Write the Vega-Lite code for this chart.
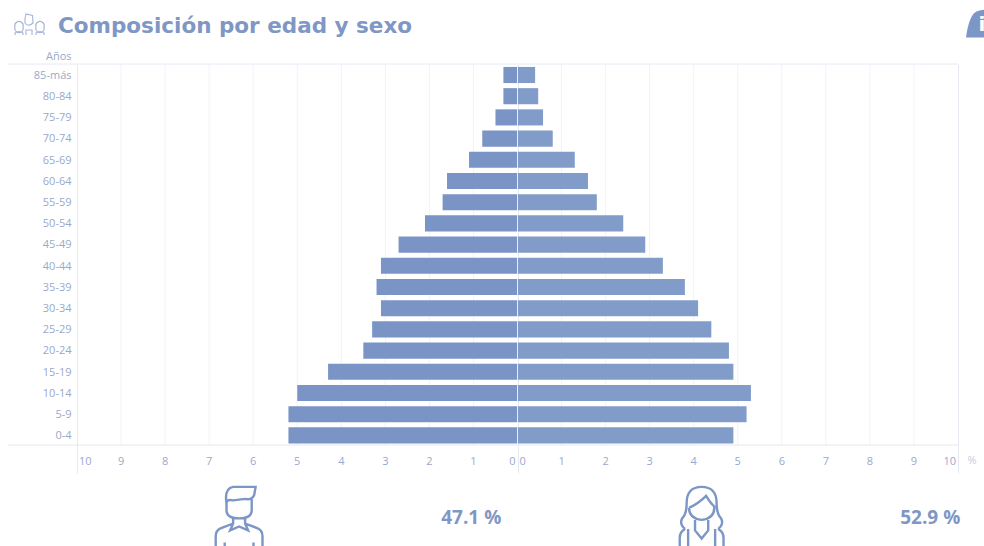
{
"$schema":"https://vega.github.io/schema/vega-lite/v6.json",
"width":881,"height":381.6,
"autosize":{"type":"none"},
"padding":{"left":77,"top":64.4,"right":26,"bottom":100},
"background":"white",
"title":{"text":"Composición por edad y sexo","anchor":"start","frame":"group","dx":-19,"offset":-28,"font":"DejaVu Sans","fontSize":21.5,"fontWeight":"bold","color":"#7f97c4"},
"config":{"view":{"stroke":null}},
"encoding":{
"y":{"field":"age","type":"nominal","sort":null,"scale":{"domain":["85-más","80-84","75-79","70-74","65-69","60-64","55-59","50-54","45-49","40-44","35-39","30-34","25-29","20-24","15-19","10-14","5-9","0-4"],"paddingInner":0.24,"paddingOuter":0.12}}
},
"layer":[
{"data":{"values":[{"t":-9},{"t":-8},{"t":-7},{"t":-6},{"t":-5},{"t":-4},{"t":-3},{"t":-2},{"t":-1},{"t":1},{"t":2},{"t":3},{"t":4},{"t":5},{"t":6},{"t":7},{"t":8},{"t":9}]},
"mark":{"type":"rule","color":"#f1f3f8","strokeWidth":1},
"encoding":{"y":null,"x":{"field":"t","type":"quantitative","scale":{"domain":[-10,10],"nice":false},
"axis":{"values":[-10,0,10],"labels":false,"domain":false,"ticks":true,"tickSize":27,"tickColor":"#e6e9f2","title":null,"grid":true,"gridColor":"#e6e9f2"}}}},
{"data":{"values":[{"age":"85-más"}]},
"mark":{"type":"rule","color":"#e6e9f2","strokeWidth":1,"xOffset":-69},
"encoding":{"y":{"field":"age","type":"nominal","sort":null,"bandPosition":-0.18,"axis":{"domain":false,"ticks":false,"grid":false,"labelFont":"Open Sans","labelFontSize":11,"labelColor":"#9aa9ca","labelPadding":6,"labelOffset":0.7,"title":"Años","titleFont":"Open Sans","titleFontSize":11,"titleFontWeight":"normal","titleColor":"#9aa9ca","titleAngle":0,"titleAlign":"right","titleBaseline":"middle","titleX":-6,"titleY":-8}},"x":{"datum":-10},"x2":{"datum":10}}},
{"data":{"values":[{"age":"0-4"}]},
"mark":{"type":"rule","color":"#e6e9f2","strokeWidth":1,"xOffset":-69},
"encoding":{"y":{"field":"age","type":"nominal","sort":null,"bandPosition":1.1},"x":{"datum":-10},"x2":{"datum":10}}},
{"data":{"values":[
{"age":"85-más","sex":"H","value":-0.32},{"age":"80-84","sex":"H","value":-0.32},{"age":"75-79","sex":"H","value":-0.5},{"age":"70-74","sex":"H","value":-0.8},{"age":"65-69","sex":"H","value":-1.1},{"age":"60-64","sex":"H","value":-1.6},{"age":"55-59","sex":"H","value":-1.7},{"age":"50-54","sex":"H","value":-2.1},{"age":"45-49","sex":"H","value":-2.7},{"age":"40-44","sex":"H","value":-3.1},{"age":"35-39","sex":"H","value":-3.2},{"age":"30-34","sex":"H","value":-3.1},{"age":"25-29","sex":"H","value":-3.3},{"age":"20-24","sex":"H","value":-3.5},{"age":"15-19","sex":"H","value":-4.3},{"age":"10-14","sex":"H","value":-5.0},{"age":"5-9","sex":"H","value":-5.2},{"age":"0-4","sex":"H","value":-5.2},
{"age":"85-más","sex":"M","value":0.4},{"age":"80-84","sex":"M","value":0.47},{"age":"75-79","sex":"M","value":0.58},{"age":"70-74","sex":"M","value":0.8},{"age":"65-69","sex":"M","value":1.3},{"age":"60-64","sex":"M","value":1.6},{"age":"55-59","sex":"M","value":1.8},{"age":"50-54","sex":"M","value":2.4},{"age":"45-49","sex":"M","value":2.9},{"age":"40-44","sex":"M","value":3.3},{"age":"35-39","sex":"M","value":3.8},{"age":"30-34","sex":"M","value":4.1},{"age":"25-29","sex":"M","value":4.4},{"age":"20-24","sex":"M","value":4.8},{"age":"15-19","sex":"M","value":4.9},{"age":"10-14","sex":"M","value":5.3},{"age":"5-9","sex":"M","value":5.2},{"age":"0-4","sex":"M","value":4.9}
]},
"mark":{"type":"bar"},
"encoding":{"x":{"field":"value","type":"quantitative"},
"color":{"field":"sex","type":"nominal","legend":null,"scale":{"domain":["H","M"],"range":["#7a94c5","#829cc9"]}}}},
{"data":{"values":[{"age":"85-más"}]},
"mark":{"type":"rule","color":"#ffffff","opacity":0.75,"strokeWidth":1},
"encoding":{"y":null,"x":{"datum":0}}},
{"data":{"values":[{"t":-9,"l":"9"},{"t":-8,"l":"8"},{"t":-7,"l":"7"},{"t":-6,"l":"6"},{"t":-5,"l":"5"},{"t":-4,"l":"4"},{"t":-3,"l":"3"},{"t":-2,"l":"2"},{"t":-1,"l":"1"},{"t":1,"l":"1"},{"t":2,"l":"2"},{"t":3,"l":"3"},{"t":4,"l":"4"},{"t":5,"l":"5"},{"t":6,"l":"6"},{"t":7,"l":"7"},{"t":8,"l":"8"},{"t":9,"l":"9"}]},
"mark":{"type":"text","font":"Open Sans","fontSize":11,"color":"#98a9ce","dy":26.5},
"encoding":{"y":{"datum":"0-4"},"x":{"field":"t","type":"quantitative"},"text":{"field":"l"}}},
{"data":{"values":[{"t":-10,"l":"10"},{"t":0,"l":"0"}]},
"mark":{"type":"text","font":"Open Sans","fontSize":11,"color":"#98a9ce","dy":26.5,"align":"left","dx":2},
"encoding":{"y":{"datum":"0-4"},"x":{"field":"t","type":"quantitative"},"text":{"field":"l"}}},
{"data":{"values":[{"t":10,"l":"10"},{"t":0,"l":"0"}]},
"mark":{"type":"text","font":"Open Sans","fontSize":11,"color":"#98a9ce","dy":26.5,"align":"right","dx":-2},
"encoding":{"y":{"datum":"0-4"},"x":{"field":"t","type":"quantitative"},"text":{"field":"l"}}},
{"data":{"values":[{"t":10,"l":"%"}]},
"mark":{"type":"text","font":"Open Sans","fontSize":11,"color":"#c3cde3","dy":26,"dx":14},
"encoding":{"y":{"datum":"0-4"},"x":{"field":"t","type":"quantitative"},"text":{"field":"l"}}},
{"data":{"values":[{"t":-1.05,"l":"47.1 %"},{"t":9.37,"l":"52.9 %"}]},
"mark":{"type":"text","font":"Open Sans","fontSize":19,"fontWeight":"bold","color":"#7f97c4","dy":82.5},
"encoding":{"y":{"datum":"0-4"},"x":{"field":"t","type":"quantitative"},"text":{"field":"l"}}},
{"data":{"values":[{"t":-6.32}]},
"mark":{"type":"point","filled":false,"stroke":"#7c96c6","strokeWidth":2.4,"opacity":1,"size":3600,"yOffset":81.5,
"shape":"M-0.42,-0.45 Q-0.5,-0.95 -0.2,-1 L0.55,-1 L0.5,-0.72 Q0.4,-0.55 0.2,-0.6 L-0.2,-0.55 Q-0.42,-0.6 -0.42,-0.45 L-0.42,-0.2 Q-0.4,0.05 0,0.05 Q0.4,0.05 0.42,-0.2 L0.42,-0.6 M-0.2,0.05 L-0.2,0.22 L-0.62,0.38 Q-0.78,0.45 -0.78,0.65 L-0.78,1.2 M0.2,0.05 L0.2,0.22 L0.62,0.38 Q0.78,0.45 0.78,0.65 L0.78,1.2 M-0.2,0.22 L-0.3,0.45 L0,0.32 L0.3,0.45 L0.2,0.22 M-0.48,0.85 L-0.48,1.2 M0.48,0.85 L0.48,1.2"},
"encoding":{"y":{"datum":"0-4"},"x":{"field":"t","type":"quantitative"}}},
{"data":{"values":[{"t":4.18}]},
"mark":{"type":"point","filled":false,"stroke":"#7c96c6","strokeWidth":2.4,"opacity":1,"size":3600,"yOffset":81.5,
"shape":"M0,-1 Q-0.5,-1 -0.5,-0.45 Q-0.5,-0.1 -0.65,0.05 Q-0.75,0.25 -0.55,0.4 M0,-1 Q0.5,-1 0.5,-0.45 Q0.5,-0.1 0.65,0.05 Q0.75,0.25 0.55,0.4 M-0.42,-0.3 Q-0.1,-0.45 0.15,-0.7 Q0.3,-0.45 0.42,-0.35 Q0.45,0.05 0,0.1 Q-0.42,0.05 -0.42,-0.3 M-0.55,0.4 Q-0.73,0.5 -0.73,0.7 L-0.73,1.2 M0.55,0.4 Q0.73,0.5 0.73,0.7 L0.73,1.2 M-0.22,0.1 L-0.22,0.45 L0,0.72 L0.22,0.45 L0.22,0.1 M-0.45,0.4 L-0.45,1.2 M0.45,0.4 L0.45,1.2"},
"encoding":{"y":{"datum":"0-4"},"x":{"field":"t","type":"quantitative"}}},
{"data":{"values":[{"t":-10}]},
"mark":{"type":"point","filled":false,"stroke":"#a3b4d6","strokeWidth":1.1,"opacity":1,"size":400,"xOffset":-48,"yOffset":-51,
"shape":"M-0.4,-0.55 L-0.4,-0.1 Q-0.1,0.35 0.4,-0.1 L0.35,-0.85 L-0.3,-1 Z M-1.4,0.3 A0.42,0.42 0 1 1 -0.6,0.3 A0.42,0.42 0 1 1 -1.4,0.3 M0.7,0.3 A0.42,0.42 0 1 1 1.5,0.3 A0.42,0.42 0 1 1 0.7,0.3 M-1.4,1.1 L-1.4,0.9 Q-1,0.6 -0.6,0.9 L-0.6,1.1 M0.7,1.1 L0.7,0.9 Q1.1,0.6 1.5,0.9 L1.5,1.1 M-0.3,1.1 L-0.3,0.6 L0.3,0.6 L0.3,1.1"},
"encoding":{"y":{"datum":"85-más"},"x":{"field":"t","type":"quantitative"}}},
{"data":{"values":[{"t":10}]},
"mark":{"type":"point","filled":true,"fill":"#7c96c6","stroke":null,"opacity":1,"size":3600,"xOffset":26,"yOffset":-51,
"shape":"M-0.6,0.45 Q-0.5,-0.3 -0.25,-0.42 Q-0.05,-0.5 0.5,-0.5 L0.5,0.45 Z"},
"encoding":{"y":{"datum":"85-más"},"x":{"field":"t","type":"quantitative"}}},
{"data":{"values":[{"t":10,"l":"i"}]},
"mark":{"type":"text","font":"DejaVu Sans","fontSize":20,"fontWeight":"bold","color":"#ffffff","dx":24,"dy":-50},
"encoding":{"y":{"datum":"85-más"},"x":{"field":"t","type":"quantitative"},"text":{"field":"l"}}}
]
}
